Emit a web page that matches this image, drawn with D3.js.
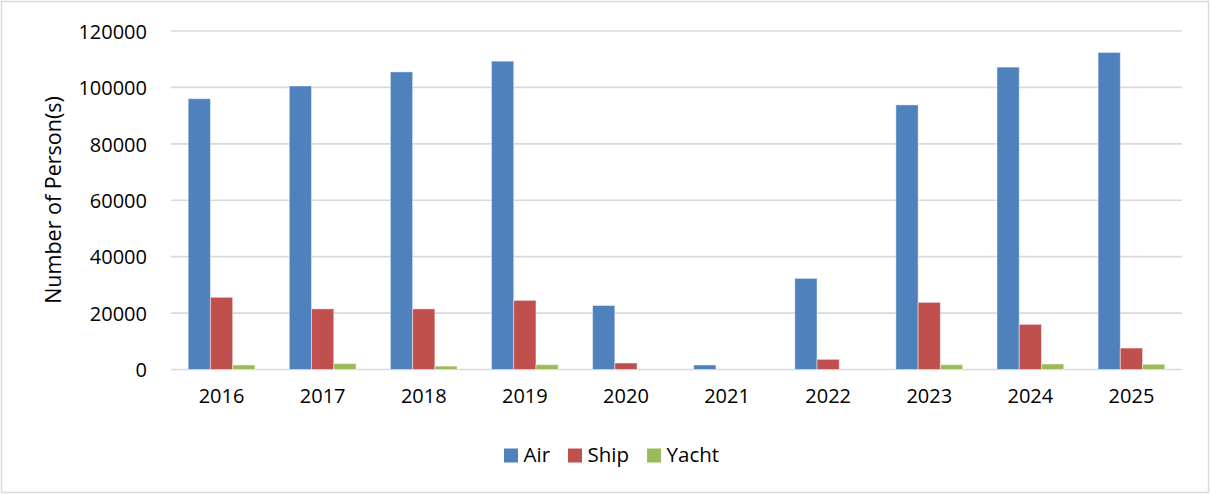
<!DOCTYPE html>
<html>
<head>
<meta charset="utf-8">
<script src="https://cdn.jsdelivr.net/npm/d3@7"></script>
<style>
  body { margin: 0; background: #fff; }
  svg text { font-family: "Open Sans", "Noto Sans", sans-serif; fill: #000; }
</style>
</head>
<body>
<div id="chart"></div>
<script>
// data
var years = ["2016", "2017", "2018", "2019", "2020", "2021", "2022", "2023", "2024", "2025"]
var seriesNames = ["Air", "Ship", "Yacht"]
var airValues = [96000, 100500, 105500, 109300, 22700, 1600, 32300, 93800, 107200, 112400]
var shipValues = [25600, 21500, 21500, 24500, 2300, 0, 3600, 23800, 16000, 7600]
var yachtValues = [1600, 2100, 1200, 1700, 0, 0, 0, 1700, 1950, 1850]
var yTicks = [0, 20000, 40000, 60000, 80000, 100000, 120000]
var seriesColors = ["#4F81BD", "#C0504D", "#9BBB59"]

var viewWidth = 1210
var viewHeight = 494
var plotLeft = 171
var plotRight = 1182
var plotTop = 31
var plotBottom = 369.5

var rows = years.map(function(y, i) {
  return {year: y, values: [airValues[i], shipValues[i], yachtValues[i]]}
})

var svg = d3.select('#chart')
  .append('svg')
  .attr('width', viewWidth)
  .attr('height', viewHeight)

// chart border
svg.append('rect')
  .attr('x', 1.5)
  .attr('y', 1.5)
  .attr('width', viewWidth - 3)
  .attr('height', viewHeight - 3)
  .attr('fill', '#fff')
  .attr('stroke', '#d9d9d9')
  .attr('stroke-width', 1.5)

var yScale = d3.scaleLinear()
  .domain([0, 120000])
  .range([plotBottom, plotTop])

var xScale = d3.scaleBand()
  .domain(years)
  .range([plotLeft, plotRight])
  .paddingInner(0.34)
  .paddingOuter(0.17)

var innerScale = d3.scaleBand()
  .domain(d3.range(seriesNames.length))
  .range([0, xScale.bandwidth()])

// gridlines
svg.append('g')
  .selectAll('line')
  .data(yTicks)
  .join('line')
  .attr('x1', plotLeft)
  .attr('x2', plotRight)
  .attr('y1', function(d) { return yScale(d) })
  .attr('y2', function(d) { return yScale(d) })
  .attr('stroke', '#d9d9d9')
  .attr('stroke-width', 1.6)

// y axis labels
var yAxis = d3.axisLeft(yScale)
  .tickValues(yTicks)
  .tickFormat(d3.format('d'))
  .tickSize(0)
  .tickPadding(24)

svg.append('g')
  .attr('class', 'y axis')
  .attr('transform', 'translate(' + plotLeft + ',0)')
  .call(yAxis)
  .call(function(g) { g.select('.domain').remove() })
  .selectAll('text')
  .style('font-size', '20px')
  .attr('dy', '0.36em')

// x axis labels
var xAxis = d3.axisBottom(xScale)
  .tickSize(0)
  .tickPadding(19)

svg.append('g')
  .attr('class', 'x axis')
  .attr('transform', 'translate(0,' + plotBottom + ')')
  .call(xAxis)
  .call(function(g) { g.select('.domain').remove() })
  .selectAll('text')
  .style('font-size', '20px')

// bars
var groups = svg.append('g')
  .selectAll('g')
  .data(rows)
  .join('g')
  .attr('transform', function(d) { return 'translate(' + xScale(d.year) + ',0)' })

groups.selectAll('rect')
  .data(function(d) { return d.values.map(function(v, i) { return {v: v, i: i} }) })
  .join('rect')
  .filter(function(d) { return d.v > 0 })
  .attr('x', function(d) { return innerScale(d.i) })
  .attr('width', innerScale.bandwidth())
  .attr('y', function(d) { return yScale(d.v) })
  .attr('height', function(d) { return plotBottom - yScale(d.v) })
  .attr('fill', function(d) { return seriesColors[d.i] })
  .attr('stroke', '#ffffff')
  .attr('stroke-opacity', 0.45)
  .attr('stroke-width', 1)

// y axis title
svg.append('text')
  .attr('transform', 'translate(61,200) rotate(-90)')
  .attr('text-anchor', 'middle')
  .style('font-size', '21.5px')
  .text('Number of Person(s)')

// legend
var legend = svg.append('g')
var lx = 504
seriesNames.forEach(function(name, i) {
  legend.append('rect')
    .attr('x', lx)
    .attr('y', 448.5)
    .attr('width', 14)
    .attr('height', 14)
    .attr('fill', seriesColors[i])
  var t = legend.append('text')
    .attr('x', lx + 19.5)
    .attr('y', 462)
    .style('font-size', '20.5px')
    .text(name)
  lx = lx + 19.5 + t.node().getComputedTextLength() + 18
})
</script>
</body>
</html>
